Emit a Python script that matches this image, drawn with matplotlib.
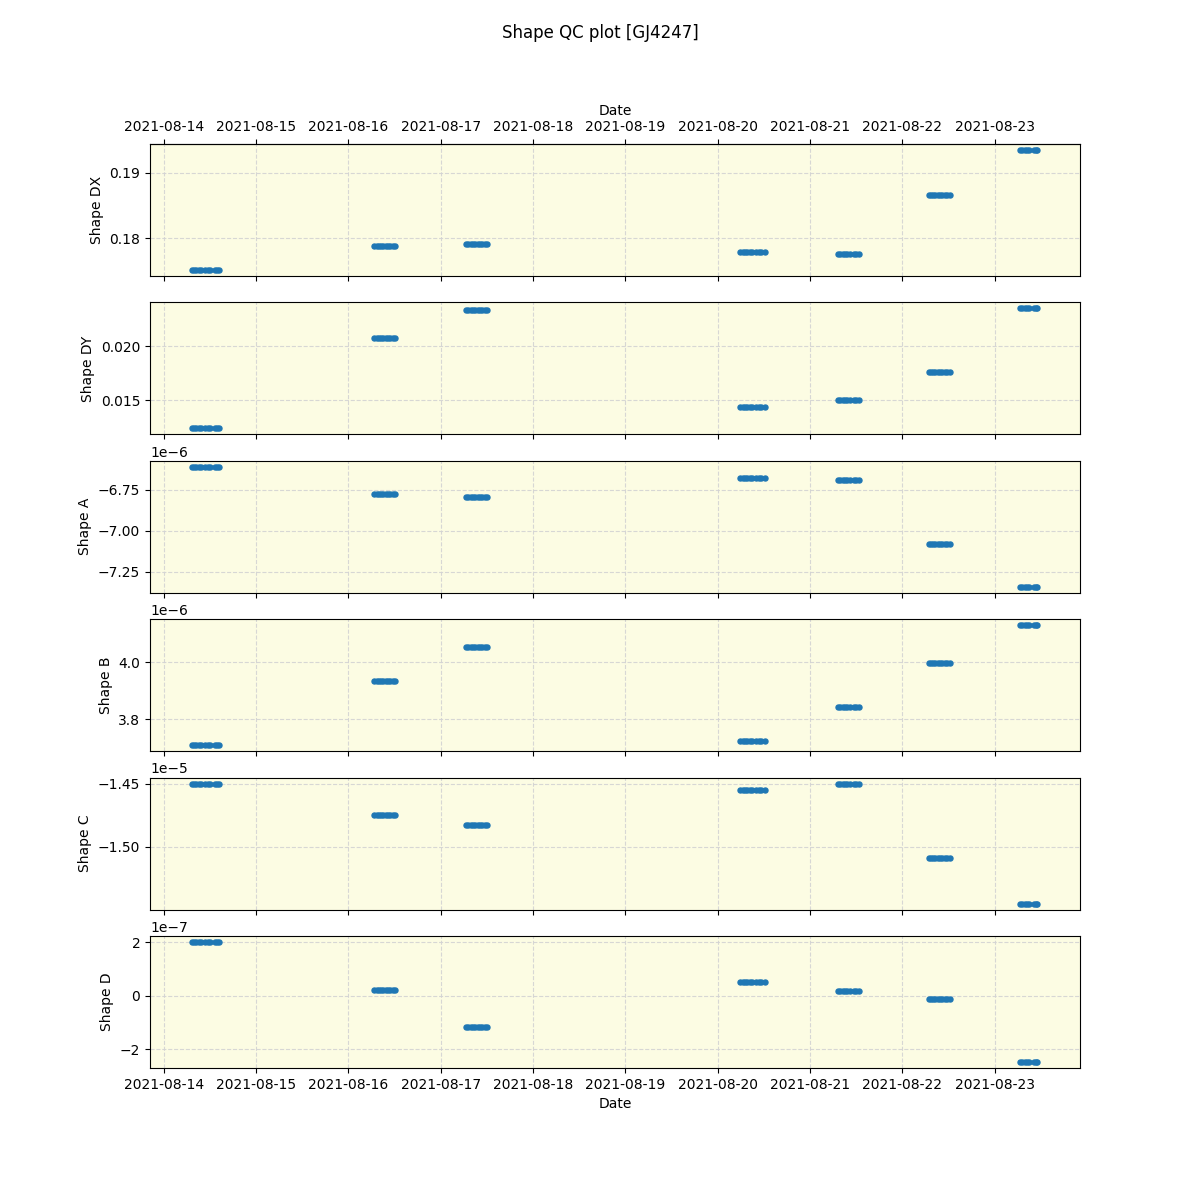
import matplotlib
matplotlib.use("Agg")
import matplotlib.pyplot as plt
import matplotlib.dates as mdates
import datetime as dt

# Nights observed and the hours (UT) of each exposure within the night
nights = ["2021-08-14", "2021-08-16", "2021-08-17", "2021-08-20",
          "2021-08-21", "2021-08-22", "2021-08-23"]
hours = [
    [7.3, 7.9, 8.5, 9.1, 9.7, 10.8, 11.4, 12.0, 13.2, 13.8, 14.4],
    [6.7, 7.3, 7.9, 8.5, 9.1, 9.7, 10.3, 10.9, 11.5, 12.0],
    [6.6, 7.2, 7.8, 8.4, 9.0, 9.6, 10.2, 10.8, 11.4, 11.9],
    [5.9, 6.5, 7.1, 7.7, 8.3, 8.9, 10.0, 10.6, 11.2, 12.3],
    [7.3, 7.9, 8.5, 9.1, 9.7, 10.3, 11.4, 12.0, 12.6],
    [6.8, 7.4, 8.0, 8.6, 9.2, 9.8, 10.4, 11.0, 11.6, 12.3],
    [6.6, 7.2, 7.8, 8.4, 9.0, 10.1, 10.7, 11.1],
]

# Per-night shape coefficients
shape_dx = [0.1751, 0.1788, 0.1791, 0.1778, 0.1775, 0.1866, 0.1935]
shape_dy = [0.01241, 0.02074, 0.02333, 0.01435, 0.01500, 0.01760, 0.02352]
shape_a = [-6.61e-6, -6.774e-6, -6.793e-6, -6.677e-6, -6.689e-6, -7.079e-6, -7.341e-6]
shape_b = [3.709e-6, 3.933e-6, 4.053e-6, 3.723e-6, 3.842e-6, 3.998e-6, 4.130e-6]
shape_c = [-1.4500e-5, -1.4746e-5, -1.4825e-5, -1.4548e-5, -1.4500e-5, -1.5087e-5, -1.5452e-5]
shape_d = [2.00e-7, 0.22e-7, -1.16e-7, 0.52e-7, 0.19e-7, -0.11e-7, -2.47e-7]

labels = ["Shape DX", "Shape DY", "Shape A", "Shape B", "Shape C", "Shape D"]
series = [shape_dx, shape_dy, shape_a, shape_b, shape_c, shape_d]

times = []
night_idx = []
for i, (n, hs) in enumerate(zip(nights, hours)):
    d0 = dt.datetime.strptime(n, "%Y-%m-%d")
    for h in hs:
        times.append(d0 + dt.timedelta(hours=h))
        night_idx.append(i)

fig, axes = plt.subplots(6, 1, figsize=(12, 12), dpi=100, sharex=True)
fig.suptitle("Shape QC plot [GJ4247]", y=0.98, fontsize=12)

for ax, lab, vals in zip(axes, labels, series):
    y = [vals[i] for i in night_idx]
    ax.set_facecolor("#fcfce3")
    ax.plot(times, y, "o", color="tab:blue", markersize=3.6, linestyle="none")
    ax.set_ylabel(lab)
    ax.grid(True, linestyle="--", color="lightgray", alpha=0.9)
    ax.set_axisbelow(True)

axes[0].set_xlim(dt.datetime(2021, 8, 13, 20, 25), dt.datetime(2021, 8, 23, 22, 10))
axes[-1].xaxis.set_major_locator(mdates.DayLocator())
axes[-1].xaxis.set_major_formatter(mdates.DateFormatter("%Y-%m-%d"))
axes[-1].set_xlabel("Date")

sec = axes[0].secondary_xaxis("top")
sec.xaxis.set_major_locator(mdates.DayLocator())
sec.xaxis.set_major_formatter(mdates.DateFormatter("%Y-%m-%d"))
sec.set_xlabel("Date")

fig.savefig("out.png", dpi=100)
